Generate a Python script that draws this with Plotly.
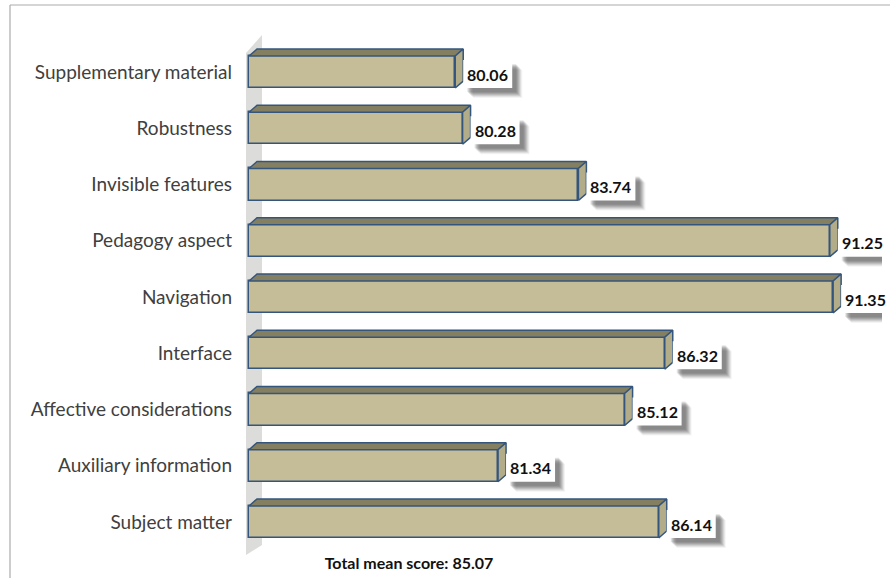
import plotly.graph_objects as go

# ---------------- data ----------------
categories = ["Subject matter", "Auxiliary information", "Affective considerations",
              "Interface", "Navigation", "Pedagogy aspect", "Invisible features",
              "Robustness", "Supplementary material"]
scores = [86.14, 81.34, 85.12, 86.32, 91.35, 91.25, 83.74, 80.28, 80.06]
score_labels = ["86.14", "81.34", "85.12", "86.32", "91.35", "91.25", "83.74", "80.28", "80.06"]
footer_text = "Total mean score: 85.07"

# ---------------- geometry ----------------
W, H = 890, 578
L, R, T, B = 244, 8, 30, 20
BASE = 73.9
XMIN, XMAX = 73.75, 92.81
YMIN, YMAX = -0.64, 8.747
pw, ph = W - L - R, H - T - B
ux = pw / (XMAX - XMIN)
uy = ph / (YMAX - YMIN)
BW = 0.57
DX = 8 / ux
DY = 7 / uy

FRONT = "#c4bd97"
TOP = "#857f62"
SIDE = "#b3ac88"
EDGE = "#34557c"

idx = list(range(len(categories)))

def py2y(py):
    return YMAX - (py - T) / uy

fig = go.Figure()

# front faces
fig.add_trace(go.Bar(
    orientation="h", y=idx, x=[s - BASE for s in scores], base=BASE, width=BW,
    marker=dict(color=FRONT, line=dict(color=EDGE, width=1.5)),
    hoverinfo="skip", showlegend=False))

# top faces and side faces
tx, ty, sx, sy = [], [], [], []
for i, s in zip(idx, scores):
    yt = i + BW / 2
    yb = i - BW / 2
    tx += [BASE, s, s + DX, BASE + DX, BASE, None]
    ty += [yt, yt, yt + DY, yt + DY, yt, None]
    sx += [s, s + DX, s + DX, s, s, None]
    sy += [yb, yb + DY, yt + DY, yt, yb, None]
fig.add_trace(go.Scatter(x=tx, y=ty, mode="lines", fill="toself", fillcolor=TOP,
                         line=dict(color=EDGE, width=1.5), hoverinfo="skip", showlegend=False))
fig.add_trace(go.Scatter(x=sx, y=sy, mode="lines", fill="toself", fillcolor=SIDE,
                         line=dict(color=EDGE, width=1.5), hoverinfo="skip", showlegend=False))

# back wall (decoration, below traces)
wx0, wx1 = BASE - 3 / ux, BASE + 13 / ux
wall = (f"M {wx0},{py2y(53)} L {wx1},{py2y(35)} L {wx1},{py2y(545)} "
        f"L {wx0},{py2y(555)} Z")
shapes = [dict(type="path", path=wall, xref="x", yref="y", layer="below",
               fillcolor="#dcdcda", line=dict(width=0))]

# chart border
bx = (10 - L) / pw
by = 1 + (T - 5) / ph
shapes.append(dict(type="line", xref="paper", yref="paper", x0=bx, x1=1 + R / pw + 0.01,
                   y0=by, y1=by, line=dict(color="#ababab", width=1.2)))
shapes.append(dict(type="line", xref="paper", yref="paper", x0=bx, x1=bx,
                   y0=by, y1=-B / ph - 0.01, line=dict(color="#ababab", width=1.2)))

# value labels: white box with soft shadow (pixel-sized boxes anchored at bar ends)
BOXW, BOXUP, BOXDN = 49, 12, 16
annotations = []
for i, s, lab in zip(idx, scores, score_labels):
    for off, op in [(10, 0.06), (9, 0.09), (8, 0.12), (7, 0.14), (6, 0.16), (5, 0.16), (4, 0.12)]:
        shapes.append(dict(type="rect", layer="above", xref="x", yref="y",
                           xsizemode="pixel", ysizemode="pixel",
                           xanchor=s + DX, yanchor=i,
                           x0=off, x1=BOXW + off, y0=BOXUP - off, y1=-BOXDN - off,
                           fillcolor=f"rgba(60,60,60,{op})", line=dict(width=0)))
    shapes.append(dict(type="rect", layer="above", xref="x", yref="y",
                       xsizemode="pixel", ysizemode="pixel",
                       xanchor=s + DX, yanchor=i,
                       x0=0, x1=BOXW, y0=BOXUP, y1=-BOXDN,
                       fillcolor="white", line=dict(width=0)))
    annotations.append(dict(
        x=s + DX, y=i, xref="x", yref="y", xanchor="center", yanchor="middle",
        xshift=BOXW / 2, yshift=-(BOXDN - BOXUP) / 2, showarrow=False,
        text=f"<b>{lab}</b>", font=dict(family="Lato", size=16, color="#111111")))

fig.update_layout(
    width=W, height=H,
    margin=dict(l=L, r=R, t=T, b=B),
    paper_bgcolor="white", plot_bgcolor="white",
    bargap=0,
    xaxis=dict(range=[XMIN, XMAX], visible=False, fixedrange=True),
    yaxis=dict(range=[YMIN, YMAX], tickmode="array", tickvals=idx, ticktext=categories,
               showgrid=False, zeroline=False, showline=False, ticks="",
               ticklabelstandoff=11,
               tickfont=dict(family="Lato", size=19, color="#404040")),
    title=dict(text=f"<b>{footer_text}</b>", xref="paper", x=(409 - L) / pw, xanchor="center",
               yref="container", y=(H - 563) / H, yanchor="middle",
               font=dict(family="Lato", size=16, color="#111111")),
    shapes=shapes,
    annotations=annotations,
)

fig.write_html("out.html")
